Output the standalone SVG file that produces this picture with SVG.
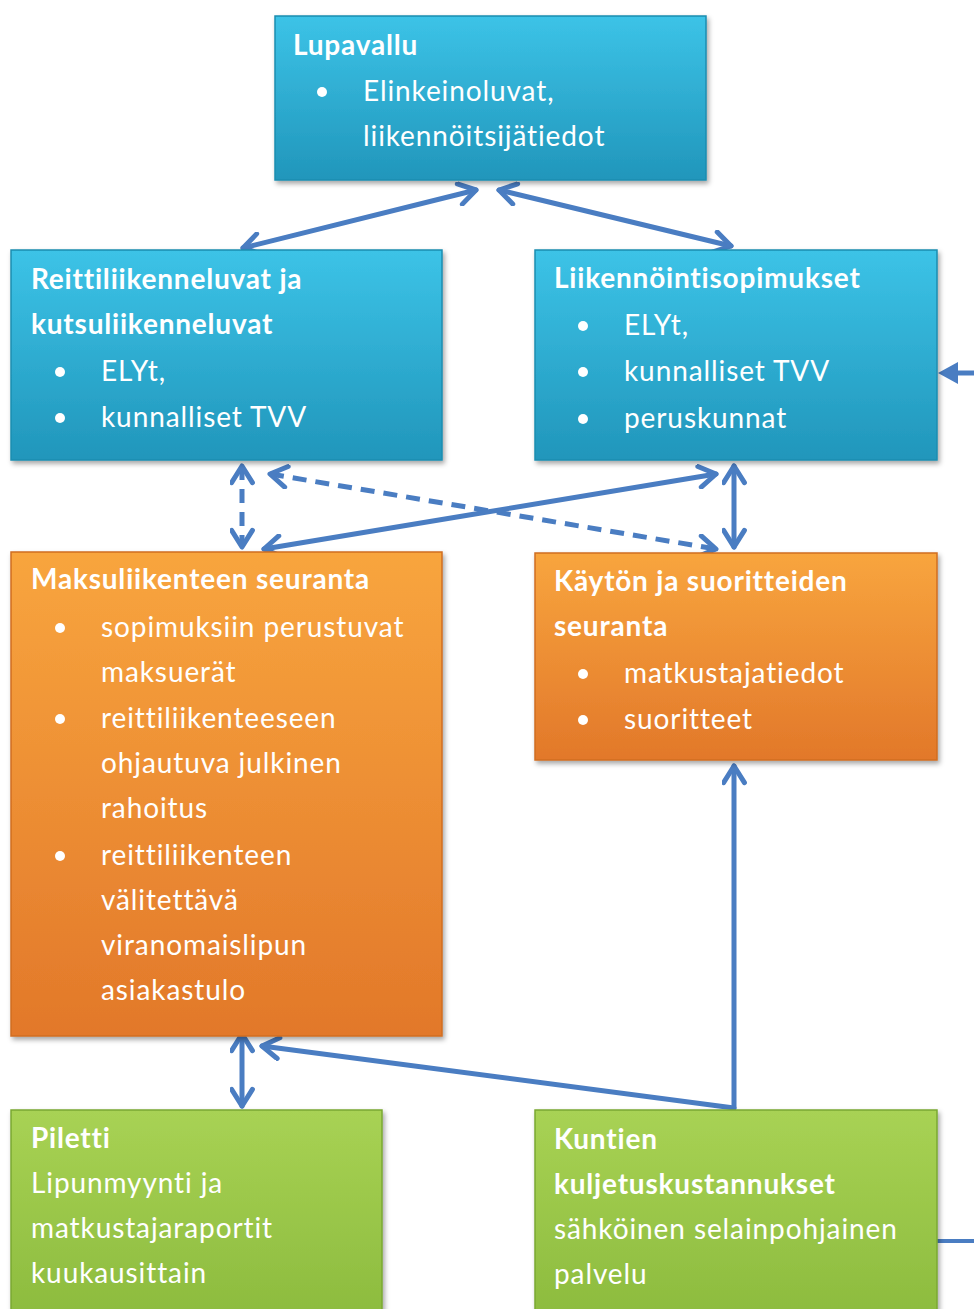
<svg xmlns="http://www.w3.org/2000/svg" width="974" height="1309" viewBox="0 0 974 1309">
<style>
.t{font-family:Lato,"Open Sans","Liberation Sans",sans-serif;font-size:28px;letter-spacing:0.9px;fill:#fff}
.b{font-weight:bold;letter-spacing:0.8px}
.c{stroke:#4a7dc2;stroke-width:5;fill:none;stroke-linecap:round}
.d{stroke-dasharray:14 9;stroke-linecap:butt}
</style>
<defs>
<linearGradient id="gb" x1="0" y1="0" x2="0" y2="1"><stop offset="0" stop-color="#3cc3e7"/><stop offset="1" stop-color="#2196bb"/></linearGradient>
<linearGradient id="go" x1="0" y1="0" x2="0" y2="1"><stop offset="0" stop-color="#f8a53e"/><stop offset="1" stop-color="#e2782a"/></linearGradient>
<linearGradient id="gg" x1="0" y1="0" x2="0" y2="1"><stop offset="0" stop-color="#a8d254"/><stop offset="1" stop-color="#8cbb3e"/></linearGradient>
<filter id="sh" x="-5%" y="-5%" width="112%" height="115%"><feDropShadow dx="2" dy="3" stdDeviation="2.5" flood-color="#000" flood-opacity="0.35"/></filter>
<marker id="ah" viewBox="0 0 12 12" refX="10" refY="6" markerWidth="5" markerHeight="5" orient="auto-start-reverse" markerUnits="strokeWidth"><path d="M2,1 L10,6 L2,11" fill="none" stroke="#4a7dc2" stroke-width="2.4" stroke-linecap="round" stroke-linejoin="round"/></marker>
</defs>

<g id="connectors">
<line class="c" x1="243" y1="248" x2="476" y2="190" marker-start="url(#ah)" marker-end="url(#ah)"/>
<line class="c" x1="499" y1="190" x2="731" y2="246" marker-start="url(#ah)" marker-end="url(#ah)"/>
<line class="c d" x1="242" y1="466" x2="242" y2="547" marker-start="url(#ah)" marker-end="url(#ah)"/>
<line class="c d" x1="270" y1="474" x2="716" y2="549" marker-start="url(#ah)" marker-end="url(#ah)"/>
<line class="c" x1="264" y1="549" x2="716" y2="474" marker-start="url(#ah)" marker-end="url(#ah)"/>
<line class="c" x1="734" y1="466" x2="734" y2="547" marker-start="url(#ah)" marker-end="url(#ah)"/>
<line class="c" x1="734" y1="1108" x2="734" y2="766" marker-end="url(#ah)"/>
<line class="c" x1="734" y1="1108" x2="262" y2="1046" marker-end="url(#ah)"/>
<line class="c" x1="242" y1="1034" x2="242" y2="1106" marker-start="url(#ah)" marker-end="url(#ah)"/>
<line x1="974" y1="373" x2="956" y2="373" stroke="#4a7dc2" stroke-width="5"/>
<path d="M938,373 L958,362 L958,384 Z" fill="#4a7dc2"/>
<line x1="934" y1="1241" x2="974" y2="1241" stroke="#4a7dc2" stroke-width="4"/>
</g>

<g id="lupavallu">
<rect x="275" y="16" width="431" height="164" fill="url(#gb)" stroke="#1d8db0" stroke-width="1.5" filter="url(#sh)"/>
<text class="t b" x="293" y="55">Lupavallu</text>
<circle cx="322" cy="92" r="5" fill="#fff"/>
<text class="t" x="363" y="101">Elinkeinoluvat,</text>
<text class="t" x="363" y="146">liikennöitsijätiedot</text>
</g>

<g id="reittiliikenne">
<rect x="11" y="250" width="431" height="210" fill="url(#gb)" stroke="#1d8db0" stroke-width="1.5" filter="url(#sh)"/>
<text class="t b" x="31" y="289">Reittiliikenneluvat ja</text>
<text class="t b" x="31" y="334">kutsuliikenneluvat</text>
<circle cx="60" cy="372" r="5" fill="#fff"/>
<text class="t" x="101" y="381">ELYt,</text>
<circle cx="60" cy="418" r="5" fill="#fff"/>
<text class="t" x="101" y="427">kunnalliset TVV</text>
</g>

<g id="liikennointi">
<rect x="535" y="250" width="402" height="210" fill="url(#gb)" stroke="#1d8db0" stroke-width="1.5" filter="url(#sh)"/>
<text class="t b" x="554" y="288">Liikennöintisopimukset</text>
<circle cx="583" cy="326" r="5" fill="#fff"/>
<text class="t" x="624" y="335">ELYt,</text>
<circle cx="583" cy="372" r="5" fill="#fff"/>
<text class="t" x="624" y="381">kunnalliset TVV</text>
<circle cx="583" cy="419" r="5" fill="#fff"/>
<text class="t" x="624" y="428">peruskunnat</text>
</g>

<g id="maksuliikenne">
<rect x="11" y="552" width="431" height="484" fill="url(#go)" stroke="#d06e20" stroke-width="1.5" filter="url(#sh)"/>
<text class="t b" x="31" y="589">Maksuliikenteen seuranta</text>
<circle cx="60" cy="628" r="5" fill="#fff"/>
<text class="t" x="101" y="637">sopimuksiin perustuvat</text>
<text class="t" x="101" y="682">maksuerät</text>
<circle cx="60" cy="719" r="5" fill="#fff"/>
<text class="t" x="101" y="728">reittiliikenteeseen</text>
<text class="t" x="101" y="773">ohjautuva julkinen</text>
<text class="t" x="101" y="818">rahoitus</text>
<circle cx="60" cy="856" r="5" fill="#fff"/>
<text class="t" x="101" y="865">reittiliikenteen</text>
<text class="t" x="101" y="910">välitettävä</text>
<text class="t" x="101" y="955">viranomaislipun</text>
<text class="t" x="101" y="1000">asiakastulo</text>
</g>

<g id="kaytto">
<rect x="535" y="553" width="402" height="207" fill="url(#go)" stroke="#d06e20" stroke-width="1.5" filter="url(#sh)"/>
<text class="t b" x="554" y="591">Käytön ja suoritteiden</text>
<text class="t b" x="554" y="636">seuranta</text>
<circle cx="583" cy="674" r="5" fill="#fff"/>
<text class="t" x="624" y="683">matkustajatiedot</text>
<circle cx="583" cy="720" r="5" fill="#fff"/>
<text class="t" x="624" y="729">suoritteet</text>
</g>

<g id="piletti">
<rect x="11" y="1110" width="371" height="210" fill="url(#gg)" stroke="#7aa832" stroke-width="1.5" filter="url(#sh)"/>
<text class="t b" x="31" y="1148">Piletti</text>
<text class="t" x="31" y="1193">Lipunmyynti ja</text>
<text class="t" x="31" y="1238">matkustajaraportit</text>
<text class="t" x="31" y="1283">kuukausittain</text>
</g>

<g id="kuntien">
<rect x="535" y="1110" width="402" height="210" fill="url(#gg)" stroke="#7aa832" stroke-width="1.5" filter="url(#sh)"/>
<text class="t b" x="554" y="1149">Kuntien</text>
<text class="t b" x="554" y="1194">kuljetuskustannukset</text>
<text class="t" x="554" y="1239">sähköinen selainpohjainen</text>
<text class="t" x="554" y="1284">palvelu</text>
</g>
</svg>
